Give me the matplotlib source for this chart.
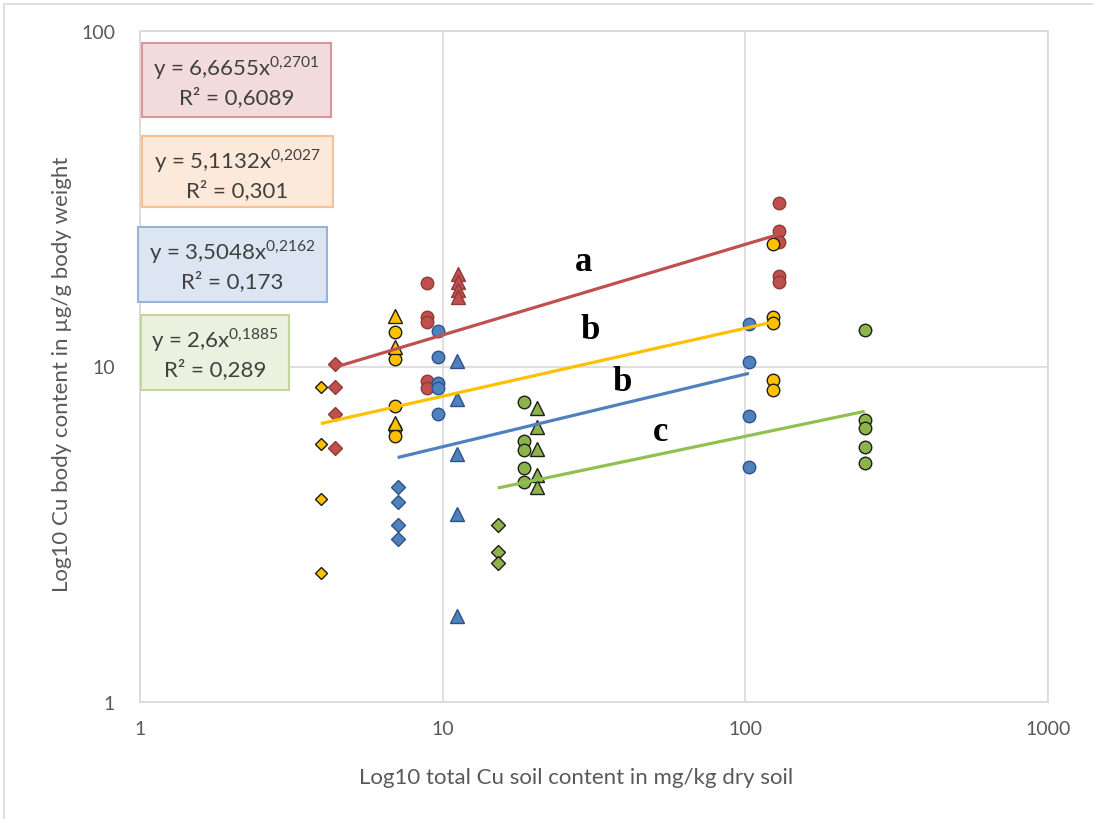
import matplotlib
matplotlib.use("Agg")
import matplotlib.pyplot as plt
from matplotlib.patches import Rectangle
import numpy as np

# ---- data: soil Cu (mg/kg) vs body Cu (µg/g), one group per marker shape ----
red_diamond_x, red_diamond_y = 4.41, [10.2, 8.7, 7.2, 5.7]
red_circle1_x, red_circle1_y = 8.87, [17.7, 14.05, 13.6, 9.05, 8.6]
red_triangle_x, red_triangle_y = 11.2, [18.9, 17.9, 16.9, 16.1]
red_circle2_x, red_circle2_y = 129.0, [30.7, 25.3, 23.5, 18.6, 17.9]

yel_diamond_x, yel_diamond_y = 3.96, [8.7, 5.87, 4.03, 2.42]
yel_circle1_x, yel_circle1_y = 6.96, [12.7, 10.5, 7.6, 6.5, 6.2]
yel_triangle_x, yel_triangle_y = 6.96, [14.15, 11.4, 6.8]
yel_circle2_x, yel_circle2_y = 123.0, [23.2, 14.05, 13.5, 9.1, 8.5]

blu_diamond_x, blu_diamond_y = 7.1, [4.37, 3.95, 3.37, 3.06]
blu_circle1_x, blu_circle1_y = 9.65, [12.8, 10.7, 8.9, 8.6, 7.2]
blu_triangle_x, blu_triangle_y = 11.15, [10.4, 8.0, 5.5, 3.63, 1.8]
blu_circle2_x, blu_circle2_y = 102.8, [13.4, 10.3, 7.1, 5.0]

grn_diamond_x, grn_diamond_y = 15.2, [3.37, 2.8, 2.6]
grn_circle1_x, grn_circle1_y = 18.56, [7.84, 6.0, 5.64, 4.98, 4.53]
grn_triangle_x, grn_triangle_y = 20.5, [7.52, 6.6, 5.68, 4.75, 4.37]
grn_circle2_x, grn_circle2_y = 248.0, [12.85, 6.93, 6.55, 5.75, 5.16]

# power-law fits y = a * x^b
fit_a = [6.6655, 5.1132, 3.5048, 2.6]
fit_b = [0.2701, 0.2027, 0.2162, 0.1885]
fit_r2 = ["0,6089", "0,301", "0,173", "0,289"]
group_letters = ["a", "b", "b", "c"]

x_ticks = [1, 10, 100, 1000]
y_ticks = [1, 10, 100]

series = [
    dict(color="#C0504D", edge="#8E3B39", line="#C0504D", dsize=7.2,
         groups=[("D", red_diamond_x, red_diamond_y),
                 ("o", red_circle1_x, red_circle1_y),
                 ("^", red_triangle_x, red_triangle_y),
                 ("o", red_circle2_x, red_circle2_y)]),
    dict(color="#FFC000", edge="#1E1E1E", line="#FFC000", dsize=6.0,
         groups=[("D", yel_diamond_x, yel_diamond_y),
                 ("o", yel_circle1_x, yel_circle1_y),
                 ("^", yel_triangle_x, yel_triangle_y),
                 ("o", yel_circle2_x, yel_circle2_y)]),
    dict(color="#4F81BD", edge="#2F528F", line="#4F81BD", dsize=7.2,
         groups=[("D", blu_diamond_x, blu_diamond_y),
                 ("o", blu_circle1_x, blu_circle1_y),
                 ("^", blu_triangle_x, blu_triangle_y),
                 ("o", blu_circle2_x, blu_circle2_y)]),
    dict(color="#8DB44A", edge="#1E1E1E", line="#92C050", dsize=6.8,
         groups=[("D", grn_diamond_x, grn_diamond_y),
                 ("o", grn_circle1_x, grn_circle1_y),
                 ("^", grn_triangle_x, grn_triangle_y),
                 ("o", grn_circle2_x, grn_circle2_y)]),
]

marker_size = {"o": 9.0, "^": 9.4}

W, H = 1093, 820
plt.rcParams["font.family"] = ["Lato", "DejaVu Sans"]
plt.rcParams["mathtext.fontset"] = "custom"
plt.rcParams["mathtext.rm"] = "Lato"
fig = plt.figure(figsize=(W / 100, H / 100), dpi=100)


def fx(px):
    return px / W


def fy(py):
    return 1 - py / H


# outer chart frame
fig.patches.append(Rectangle((fx(4), fy(830)), fx(1100) - fx(4), fy(5) - fy(830),
                             transform=fig.transFigure, fill=False,
                             edgecolor="#D9D9D9", lw=1.2))

ax = fig.add_axes([fx(140), fy(703), fx(1048) - fx(140), fy(32) - fy(703)])
ax.set_xscale("log")
ax.set_yscale("log")
ax.set_xlim(1, 1000)
ax.set_ylim(1, 100)
ax.set_xticks(x_ticks)
ax.set_xticklabels([str(t) for t in x_ticks])
ax.set_yticks(y_ticks)
ax.set_yticklabels([str(t) for t in y_ticks])
ax.minorticks_off()
ax.tick_params(length=0, labelsize=14, colors="#595959", pad=13)
ax.tick_params(axis="y", pad=18)
for s in ax.spines.values():
    s.set_color("#D9D9D9")
    s.set_linewidth(1.2)
ax.grid(True, which="major", color="#D9D9D9", lw=1.2)
ax.set_axisbelow(True)

for i, s in enumerate(series):
    xs_all = []
    for mk, gx, gy in s["groups"]:
        xs = np.full(len(gy), gx)
        xs_all.extend(xs)
        ms = s["dsize"] if mk == "D" else marker_size[mk]
        ax.plot(xs, gy, linestyle="none", marker=mk, ms=ms,
                mfc=s["color"], mec=s["edge"], mew=1.0, zorder=3)
    xl = np.geomspace(min(xs_all), max(xs_all), 50)
    ax.plot(xl, fit_a[i] * xl ** fit_b[i], color=s["line"], lw=2.3, zorder=4,
            solid_capstyle="butt")

ax.set_xlabel("Log10 total Cu soil content in mg/kg dry soil", fontsize=16,
              color="#595959")
ax.set_ylabel("Log10 Cu body content in µg/g body weight", fontsize=16,
              color="#595959")
ax.xaxis.set_label_coords(0.48, -0.097)
ax.yaxis.set_label_coords(-0.075, 0.49)

# significance letters
letter_pos = [(29.3, 20.6), (30.7, 12.9), (39.1, 9.0), (52.6, 6.42)]
for (lx, ly), t in zip(letter_pos, group_letters):
    ax.text(lx, ly, t, fontsize=25, fontweight="bold", family="Liberation Serif",
            ha="center", va="center", color="black", zorder=5)

# equation boxes (pixel extents)
boxes = [((142, 44, 331, 118), "#F2DCDB", "#D99694"),
         ((142, 137, 333, 208), "#FDE9D9", "#FAC090"),
         ((138, 228, 327, 303), "#DCE6F2", "#95B3D7"),
         ((141, 316, 289, 391), "#EBF1DE", "#C3D69B")]


def fmt(v):
    return f"{v:g}".replace(".", "{,}")


for i, ((x0, y0, x1, y1), fc, ec) in enumerate(boxes):
    fig.patches.append(Rectangle((fx(x0), fy(y1)), fx(x1) - fx(x0), fy(y0) - fy(y1),
                                 transform=fig.transFigure, facecolor=fc,
                                 edgecolor=ec, lw=1.5, zorder=5))
    cx = (x0 + x1) / 2
    eq = "y = " + fmt(fit_a[i]).replace("{,}", ",") + r"x$^{" + fmt(fit_b[i]) + "}$"
    fig.text(fx(cx), fy(y0 + 24), eq, ha="center", va="center", fontsize=16,
             color="#404040", zorder=6)
    fig.text(fx(cx), fy(y0 + 54), "R² = " + fit_r2[i], ha="center", va="center",
             fontsize=16, color="#404040", zorder=6)

fig.savefig("out.png", dpi=100)
